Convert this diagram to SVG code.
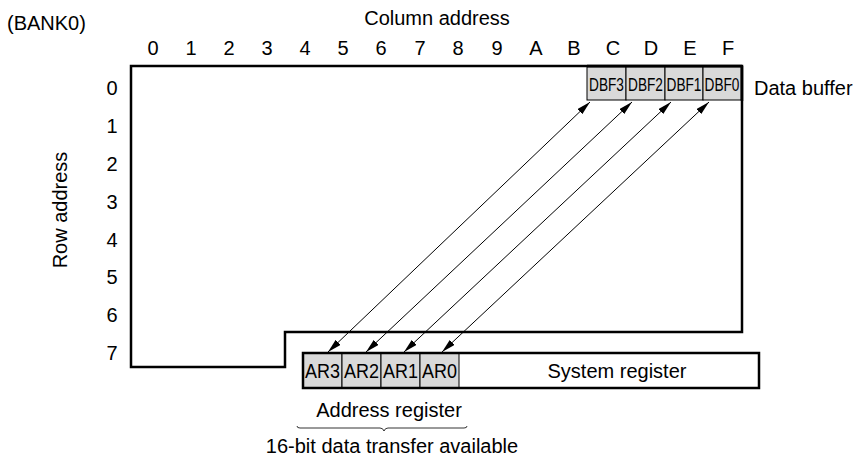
<svg xmlns="http://www.w3.org/2000/svg" width="861" height="462" viewBox="0 0 861 462">
<defs>
<style>
text{font-family:"Liberation Sans",Arial,sans-serif;font-size:20px;fill:#000}
.c{text-anchor:middle}
.dbf{font-size:18px}
.cell{fill:#d9d9d9;stroke:#000;stroke-width:1}
.box{fill:none;stroke:#000;stroke-width:2.5}
.conn{stroke:#000;stroke-width:1;fill:none;marker-start:url(#ah);marker-end:url(#ah)}
</style>
<marker id="ah" viewBox="0 0 14 7" refX="14" refY="3.5" markerWidth="14" markerHeight="7" markerUnits="userSpaceOnUse" orient="auto-start-reverse">
<path d="M0,0 L14,3.5 L0,7 z" fill="#000"/>
</marker>
</defs>
<rect width="861" height="462" fill="#fff"/>
<text x="7" y="30">(BANK0)</text>
<text class="c" x="437" y="25">Column address</text>
<g id="col-labels">
<text class="c" x="153" y="55">0</text><text class="c" x="191" y="55">1</text><text class="c" x="229" y="55">2</text><text class="c" x="267" y="55">3</text>
<text class="c" x="305" y="55">4</text><text class="c" x="343" y="55">5</text><text class="c" x="381" y="55">6</text><text class="c" x="420" y="55">7</text>
<text class="c" x="458" y="55">8</text><text class="c" x="497" y="55">9</text><text class="c" x="536" y="55">A</text><text class="c" x="574" y="55">B</text>
<text class="c" x="613" y="55">C</text><text class="c" x="651" y="55">D</text><text class="c" x="690" y="55">E</text><text class="c" x="728" y="55">F</text>
</g>
<g id="row-labels">
<text class="c" x="112" y="95">0</text><text class="c" x="112" y="133">1</text><text class="c" x="112" y="171">2</text><text class="c" x="112" y="209">3</text>
<text class="c" x="112" y="247">4</text><text class="c" x="112" y="284">5</text><text class="c" x="112" y="322">6</text><text class="c" x="112" y="360">7</text>
</g>
<text class="c" transform="translate(67,210) rotate(-90)">Row address</text>
<g id="memory">
<path class="box" d="M131,367 L131,66 L742,66 L742,332 L285,332 L285,367 Z"/>
</g>
<g id="data-buffer">
<rect class="cell" x="587" y="67" width="39" height="33"/>
<rect class="cell" x="626" y="67" width="39" height="33"/>
<rect class="cell" x="665" y="67" width="38" height="33"/>
<rect class="cell" x="703" y="67" width="38" height="33"/>
<text class="dbf c" transform="translate(606.5,91) scale(0.76,1)">DBF3</text>
<text class="dbf c" transform="translate(645.5,91) scale(0.76,1)">DBF2</text>
<text class="dbf c" transform="translate(684,91) scale(0.76,1)">DBF1</text>
<text class="dbf c" transform="translate(722,91) scale(0.76,1)">DBF0</text>
<line x1="742" y1="66" x2="742" y2="101" stroke="#000" stroke-width="2.5"/>
<path d="M587,66 L742,66" stroke="#000" stroke-width="2.5"/>
</g>
<text x="754" y="95">Data buffer</text>
<g id="registers">
<rect class="cell" x="303" y="353" width="39" height="35"/>
<rect class="cell" x="342" y="353" width="39" height="35"/>
<rect class="cell" x="381" y="353" width="39" height="35"/>
<rect class="cell" x="420" y="353" width="39" height="35"/>
<rect class="box" x="303" y="353" width="456" height="35"/>
<text class="c" x="322.5" y="378" textLength="35" lengthAdjust="spacingAndGlyphs">AR3</text>
<text class="c" x="361.5" y="378" textLength="35" lengthAdjust="spacingAndGlyphs">AR2</text>
<text class="c" x="400.5" y="378" textLength="35" lengthAdjust="spacingAndGlyphs">AR1</text>
<text class="c" x="439.5" y="378" textLength="35" lengthAdjust="spacingAndGlyphs">AR0</text>
<text class="c" x="617" y="378">System register</text>
</g>
<g id="connectors">
<line class="conn" x1="590" y1="102" x2="328" y2="352"/>
<line class="conn" x1="632" y1="102" x2="366" y2="352"/>
<line class="conn" x1="671" y1="102" x2="404" y2="352"/>
<line class="conn" x1="709" y1="102" x2="442" y2="352"/>
</g>
<text class="c" x="389" y="417">Address register</text>
<path d="M297,426 Q297,428 300,428 L380,428 Q383,428 384,431 Q385,428 388,428 L464,428 Q467,428 467,426" fill="none" stroke="#000" stroke-width="0.8"/>
<text class="c" x="392" y="453">16-bit data transfer available</text>
</svg>
